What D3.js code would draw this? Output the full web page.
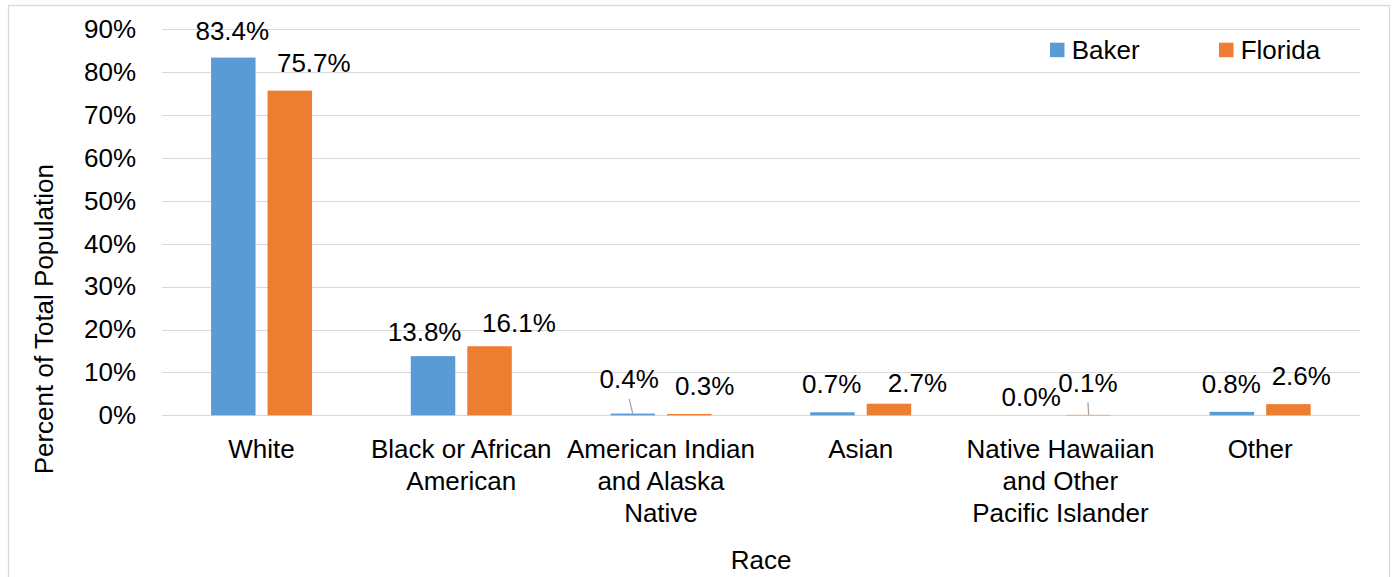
<!DOCTYPE html>
<html>
<head>
<meta charset="utf-8">
<script src="https://cdn.jsdelivr.net/npm/d3@7"></script>
<style>
  body { margin: 0; background: #fff; }
  svg text { font-family: "Liberation Sans", Arial, sans-serif; fill: #000; }
  .grid line { stroke: #d9d9d9; stroke-width: 1.3px; shape-rendering: crispEdges; }
</style>
</head>
<body>
<div id="chart"></div>
<script>
// data
var categories = ["White", "Black or African American", "American Indian and Alaska Native",
                  "Asian", "Native Hawaiian and Other Pacific Islander", "Other"];
var tickLines = [["White"], ["Black or African", "American"], ["American Indian", "and Alaska", "Native"],
                 ["Asian"], ["Native Hawaiian", "and Other", "Pacific Islander"], ["Other"]];
var series = ["Baker", "Florida"];
var baker   = [83.4, 13.8, 0.4, 0.7, 0.0, 0.8];
var florida = [75.7, 16.1, 0.3, 2.7, 0.1, 2.6];
var yTicks = [0, 10, 20, 30, 40, 50, 60, 70, 80, 90];

// label nudges (the labels were moved by hand in the original)
var nudge = {
  Baker:   [[-1,-17.6], [-8.4,-15.4], [-3.5,-25.3], [-0.7,-19], [-1,-9.3], [-0.6,-18.6]],
  Florida: [[24,-18.6], [29.4,-14.5], [15.4,-19], [28.5,-12], [-0.7,-23.2], [12.9,-19.1]]
};
var leaders = { Baker: [2], Florida: [4] };
var colors = { Baker: "#5b9bd5", Florida: "#ed7d31" };
var fs = "26px";

var W = 1393, H = 577;
var svg = d3.select("#chart").append("svg").attr("width", W).attr("height", H);

// outer frame
svg.append("rect").attr("x", 8.5).attr("y", 5.5).attr("width", 1381).attr("height", 640)
   .attr("fill", "none").attr("stroke", "#d9d9d9").attr("stroke-width", 1.3);

var x0 = d3.scaleBand().domain(categories).range([161.7, 1360]);
var x1 = d3.scaleBand().domain(series)
   .range([x0.bandwidth()/2 - 50.5, x0.bandwidth()/2 + 50.5]).paddingInner(12/56.5);
var y = d3.scaleLinear().domain([0, 90]).range([415.3, 29.3]);

// gridlines
svg.append("g").attr("class", "grid").selectAll("line").data(yTicks).enter().append("line")
   .attr("x1", 161.7).attr("x2", 1360)
   .attr("y1", function(d){ return Math.round(y(d)) + 0.5; })
   .attr("y2", function(d){ return Math.round(y(d)) + 0.5; });

// y axis labels
var yAxis = d3.axisLeft(y).tickValues(yTicks).tickSize(0).tickPadding(25.7)
   .tickFormat(function(d){ return d + "%"; });
var ya = svg.append("g").attr("transform", "translate(161.7,0)").call(yAxis);
ya.select(".domain").remove();
ya.selectAll("text").style("font-size", fs).attr("fill", "#000");

// x axis labels
var xa = svg.append("g").selectAll("text").data(categories).enter().append("text")
   .attr("text-anchor", "middle").style("font-size", fs)
   .attr("x", function(d){ return x0(d) + x0.bandwidth()/2; })
   .attr("y", 458.3);
xa.each(function(d, i){
  var t = d3.select(this);
  tickLines[i].forEach(function(line, k){
    t.append("tspan").attr("x", x0(d) + x0.bandwidth()/2).attr("dy", k === 0 ? 0 : 31.7).text(line);
  });
});

// bars
var rows = categories.map(function(c, i){
  return { cat: c, i: i, vals: [ {s: "Baker", v: baker[i]}, {s: "Florida", v: florida[i]} ] };
});
var groups = svg.append("g").selectAll("g").data(rows).enter().append("g")
   .attr("transform", function(d){ return "translate(" + x0(d.cat) + ",0)"; });

groups.selectAll("rect").data(function(d){ return d.vals; }).enter().append("rect")
   .attr("x", function(d){ return x1(d.s); })
   .attr("width", x1.bandwidth())
   .attr("y", function(d){ return y(d.v); })
   .attr("height", function(d){ return y(0) - y(d.v); })
   .attr("fill", function(d){ return colors[d.s]; });

// value labels and leader lines
groups.each(function(row){
  var g = d3.select(this);
  row.vals.forEach(function(d){
    var n = nudge[d.s][row.i];
    var cx = x1(d.s) + x1.bandwidth()/2;
    var top = y(d.v);
    g.append("text").attr("text-anchor", "middle").style("font-size", fs)
     .attr("x", cx + n[0]).attr("y", top + n[1]).text(d.v.toFixed(1) + "%");
    if (leaders[d.s].indexOf(row.i) >= 0) {
      g.append("line").attr("x1", cx + n[0]).attr("y1", top + n[1] + 10.5)
       .attr("x2", cx).attr("y2", top)
       .attr("stroke", "#a6a6a6").attr("stroke-width", 1.3);
    }
  });
});

// axis titles
svg.append("text").attr("text-anchor", "middle").style("font-size", fs)
   .attr("transform", "translate(53.3,319.2) rotate(-90)").text("Percent of Total Population");
svg.append("text").attr("text-anchor", "middle").style("font-size", fs)
   .attr("x", 761).attr("y", 569.3).text("Race");

// legend
var legX = [1050, 1219];
var leg = svg.append("g").selectAll("g").data(series).enter().append("g")
   .attr("transform", function(d, i){ return "translate(" + legX[i] + ",0)"; });
leg.append("rect").attr("x", 0).attr("y", 42.7).attr("width", 14.5).attr("height", 14.5)
   .attr("fill", function(d){ return colors[d]; });
leg.append("text").attr("x", 21.7).attr("y", 59.3).style("font-size", fs).text(function(d){ return d; });
</script>
</body>
</html>
